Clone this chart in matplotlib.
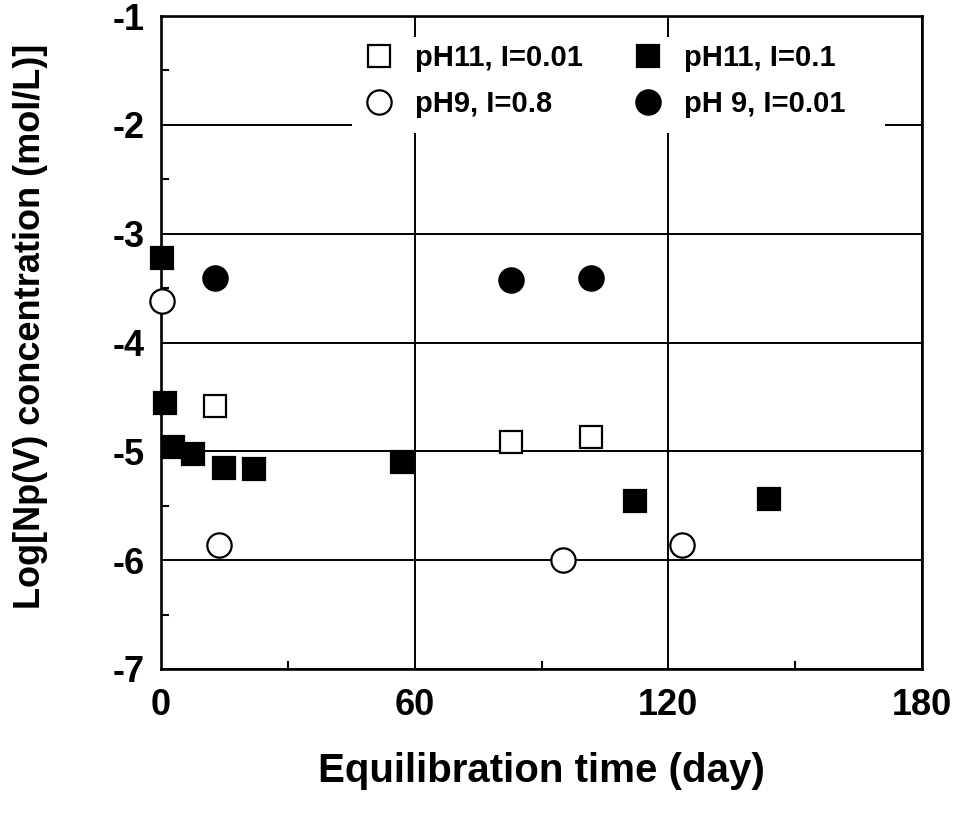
import matplotlib
matplotlib.use("Agg")
import matplotlib.pyplot as plt
from matplotlib.patches import Rectangle
from matplotlib.ticker import MultipleLocator

plt.rcParams['font.family'] = ['Liberation Sans', 'DejaVu Sans']
plt.rcParams['font.weight'] = 'bold'
plt.rcParams['axes.unicode_minus'] = False

# Data
x_ph11_i001 = [12.8, 82.8, 101.8]
y_ph11_i001 = [-4.58, -4.91, -4.87]

x_ph11_i01 = [0.3, 1.0, 2.8, 7.6, 14.8, 22.0, 56.9, 112.0, 143.8]
y_ph11_i01 = [-3.22, -4.56, -4.96, -5.02, -5.15, -5.16, -5.10, -5.46, -5.44]

x_ph9_i08 = [0.3, 13.8, 95.2, 123.3]
y_ph9_i08 = [-3.62, -5.86, -6.00, -5.86]

x_ph9_i001 = [12.8, 82.8, 101.8]
y_ph9_i001 = [-3.41, -3.43, -3.41]

x_ticks = [0, 60, 120, 180]
y_ticks = [-7, -6, -5, -4, -3, -2, -1]

fig = plt.figure(figsize=(9.61, 8.16), dpi=100)
ax = fig.add_axes([161/961, 1-669/816, (922-161)/961, (669-16)/816])

ax.set_xlim(0, 180)
ax.set_ylim(-7, -1)
ax.set_xticks(x_ticks)
ax.set_yticks(y_ticks)
ax.xaxis.set_minor_locator(MultipleLocator(30))
ax.yaxis.set_minor_locator(MultipleLocator(0.5))
ax.tick_params(which='major', direction='in', length=0, width=1.5,
               labelsize=26, pad=12)
ax.tick_params(axis='x', which='major', pad=14)
ax.tick_params(which='minor', direction='in', length=6, width=1.5)
for lab in ax.get_xticklabels() + ax.get_yticklabels():
    lab.set_fontweight('bold')

for s in ax.spines.values():
    s.set_linewidth(1.9)
    s.set_color('black')

ax.set_axisbelow(True)
ax.grid(True, which='major', color='black', linewidth=1.4)

# white box behind legend that hides the grid
ax.add_patch(Rectangle(((352-161)/761, (669-133)/653), (885-352)/761, (133-37)/653,
                       transform=ax.transAxes, facecolor='white', edgecolor='none',
                       zorder=1.5))

ms_sq = 16.5
ms_c = 17.5
mew = 1.6
h1, = ax.plot(x_ph11_i001, y_ph11_i001, 's', ms=ms_sq, mfc='white', mec='black', mew=mew,
              clip_on=False, zorder=4, label='pH11, I=0.01')
h2, = ax.plot(x_ph11_i01, y_ph11_i01, 's', ms=ms_sq, mfc='black', mec='black', mew=mew,
              clip_on=False, zorder=4, label='pH11, I=0.1')
h3, = ax.plot(x_ph9_i08, y_ph9_i08, 'o', ms=ms_c, mfc='white', mec='black', mew=mew,
              clip_on=False, zorder=4, label='pH9, I=0.8')
h4, = ax.plot(x_ph9_i001, y_ph9_i001, 'o', ms=ms_c, mfc='black', mec='black', mew=mew,
              clip_on=False, zorder=4, label='pH 9, I=0.01')

leg_kw = dict(frameon=False, handlelength=0.95, handletextpad=0.75,
              labelspacing=0.62, borderpad=0, borderaxespad=0, loc='upper left',
              prop={'weight': 'bold', 'size': 21})
leg1 = ax.legend([h1, h3], ['pH11, I=0.01', 'pH9, I=0.8'],
                 bbox_to_anchor=((379-14)/961, 1-44/816), bbox_transform=fig.transFigure, **leg_kw)
ax.add_artist(leg1)
leg2 = ax.legend([h2, h4], ['pH11, I=0.1', 'pH 9, I=0.01'],
                 bbox_to_anchor=((648-14)/961, 1-44/816), bbox_transform=fig.transFigure, **leg_kw)
leg1.set_zorder(6)
leg2.set_zorder(6)

ax.set_ylabel('Log[Np(V) concentration (mol/L)]', fontsize=26, fontweight='bold')
ax.yaxis.set_label_coords((48 - 161)/761, (669-326)/653)
ax.set_xlabel('Equilibration time (day)', fontsize=29, fontweight='bold')
ax.xaxis.set_label_coords((541-161)/761, (669-752)/653)

fig.savefig('out.png', dpi=100)
